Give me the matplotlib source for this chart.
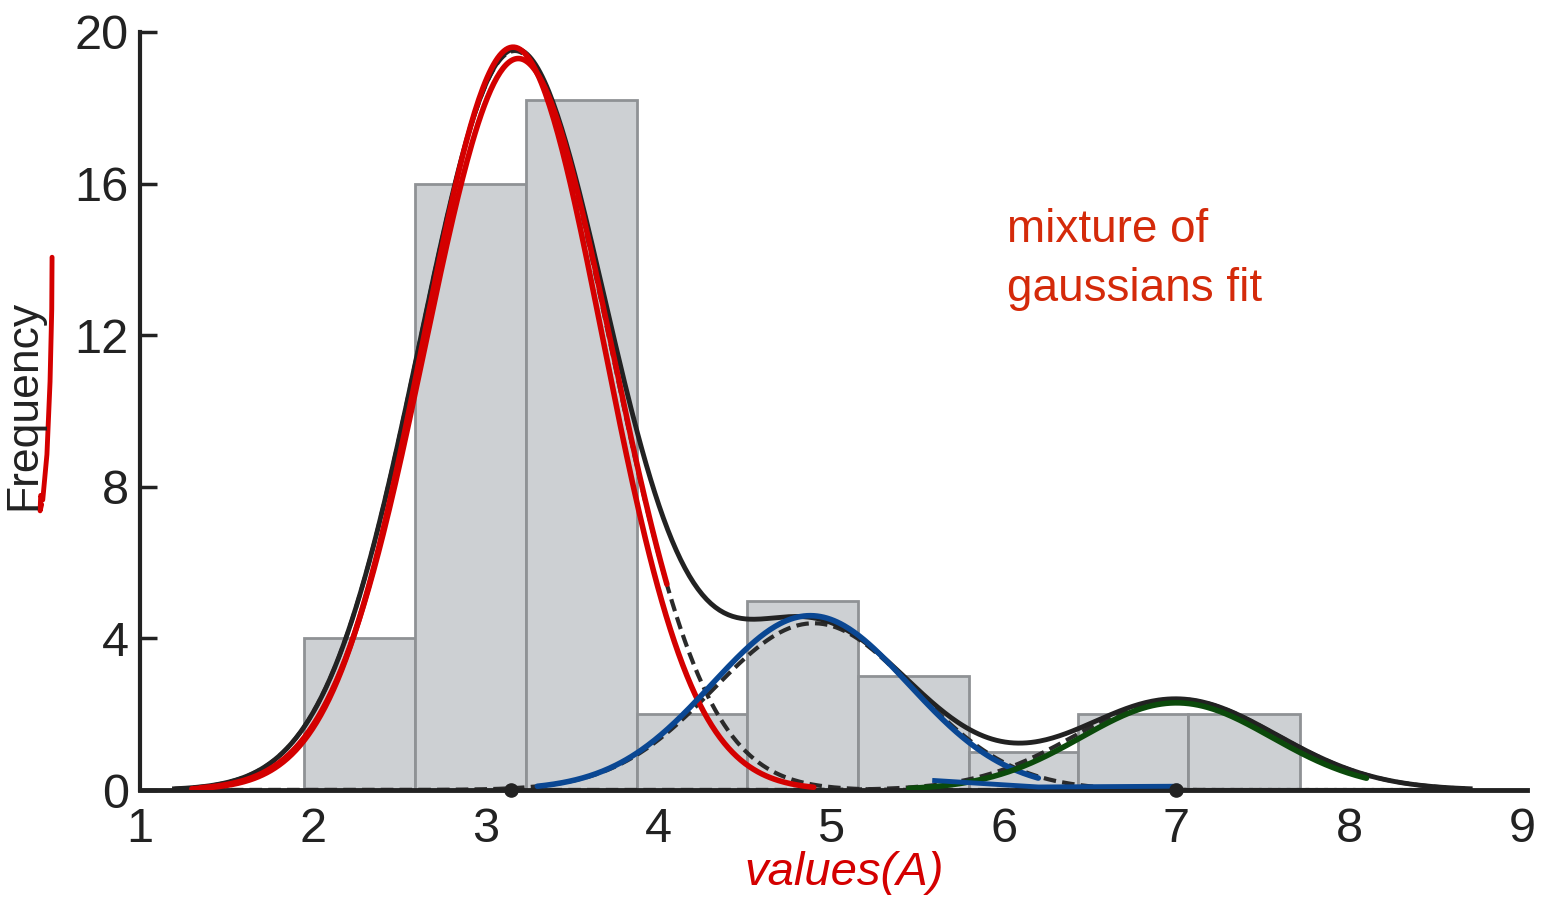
import numpy as np
import matplotlib
matplotlib.use('Agg')
import matplotlib.pyplot as plt

plt.rcParams['font.family'] = ['Liberation Sans', 'DejaVu Sans']

# Histogram (bin edges and counts)
bin_edges = [1.95, 2.59, 3.234, 3.877, 4.514, 5.156, 5.80, 6.43, 7.066, 7.715]
counts = [4, 16, 18.2, 2, 5, 3, 1, 2, 2]

# Fitted gaussian components: height, mean, sigma
comp_height = [19.5, 4.4, 2.4]
comp_mean = [3.17, 4.9, 7.0]
comp_sigma = [0.55, 0.58, 0.58]

# Hand-drawn overlays (same shape, slightly off the fit)
red_strokes = [(19.6, 3.16, 0.52, 1.30, 4.90), (19.3, 3.19, 0.54, 1.35, 4.05)]
blue_strokes = [(4.6, 4.88, 0.57, 3.30, 6.20)]
green_strokes = [(2.3, 7.0, 0.55, 5.45, 8.10)]
mean_dots = [3.15, 7.0]

xticks = [1, 2, 3, 4, 5, 6, 7, 8, 9]
yticks = [0, 4, 8, 12, 16, 20]

def gauss(x, h, m, s):
    return h * np.exp(-(x - m) ** 2 / (2 * s ** 2))

fig = plt.figure(figsize=(15.54, 9.09), dpi=100)
ax = fig.add_axes([0.0901, 0.1309, 0.8893, 0.8339])

# bars
widths = np.diff(bin_edges)
ax.bar(bin_edges[:-1], counts, width=widths, align='edge', color='#cdd0d3',
       edgecolor='#8f9295', linewidth=2, zorder=1)

# dashed components and solid sum
xs = np.linspace(1.2, 8.7, 600)
total = np.zeros_like(xs)
for h, m, s in zip(comp_height, comp_mean, comp_sigma):
    y = gauss(xs, h, m, s)
    total += y
    ax.plot(xs, y, color='#2a2a2a', lw=3, ls=(0, (3, 1.5)), zorder=2)
ax.plot(xs, total, color='#222222', lw=3.5, zorder=3)

# hand drawn strokes
for strokes, col in [(red_strokes, '#d40000'), (blue_strokes, '#0a4793'), (green_strokes, '#0b4a0b')]:
    for h, m, s, a, b in strokes:
        xx = np.linspace(a, b, 300)
        ax.plot(xx, gauss(xx, h, m, s), color=col, lw=4, solid_capstyle='round', zorder=4)
# blue tail toward 7
ax.plot([5.6, 6.2, 7.0], [0.25, 0.08, 0.1], color='#0a4793', lw=3.5, zorder=4)

ax.scatter(mean_dots, [0, 0], s=90, color='#222222', zorder=5, clip_on=False)

ax.set_xlim(1, 9)
ax.set_ylim(0, 20)
ax.set_xticks(xticks)
ax.set_yticks(yticks)
ax.tick_params(axis='y', direction='in', length=12, width=2.5, labelsize=35, pad=8, colors='#222222')
ax.tick_params(axis='x', length=0, labelsize=35, pad=12, colors='#222222')
for sp in ['top', 'right']:
    ax.spines[sp].set_visible(False)
ax.spines['left'].set_linewidth(3)
ax.spines['bottom'].set_linewidth(3.5)
ax.spines['left'].set_color('#222222')
ax.spines['bottom'].set_color('#222222')
ax.spines['bottom'].set_bounds(1, 9.03)

fig.text(0.0155, 0.555, 'Frequency', rotation=90, fontsize=32, color='#222222',
         ha='center', va='center')

ax.text(0.627, 0.70, 'mixture of\ngaussians fit', transform=ax.transAxes,
        fontsize=33, color='#d42a0a', linespacing=1.45, va='center', ha='left')

# red squiggle next to the axis label (figure fractions)
sq_x = [0.0335, 0.0333, 0.0322, 0.0302, 0.0275, 0.0262, 0.0258, 0.0268]
sq_y = [0.717, 0.66, 0.58, 0.50, 0.45, 0.455, 0.438, 0.445]
fig.add_artist(plt.Line2D(sq_x, sq_y, color='#d40000', lw=3.5, transform=fig.transFigure,
                          solid_capstyle='round'))

fig.text(0.543, 0.04, 'values(A)', fontsize=34, color='#d40000', style='italic',
         ha='center', va='center')

fig.savefig('out.png', dpi=100)
